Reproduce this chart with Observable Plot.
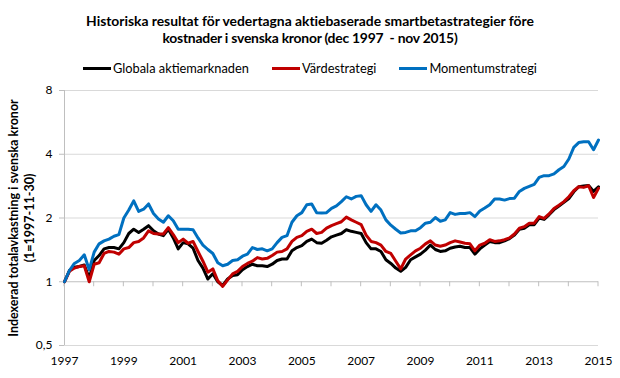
<!DOCTYPE html>
<html><head><meta charset="utf-8">
<script src="https://cdn.jsdelivr.net/npm/d3@7"></script>
<script src="https://cdn.jsdelivr.net/npm/@observablehq/plot@0.6"></script>
<style>
  html,body{margin:0;padding:0;background:#fff;}
  body{width:620px;height:378px;position:relative;overflow:hidden;font-family:Lato,"Open Sans",sans-serif;}
  #title{position:absolute;left:0;top:12px;width:620px;text-align:center;font-weight:bold;font-size:13.9px;line-height:17px;color:#000;}
  #title div{white-space:nowrap;}
  #title span{display:inline-block;white-space:pre;}
  #legend{position:absolute;left:0;top:60px;width:620px;display:flex;justify-content:center;gap:23px;font-size:12.8px;color:#000;}
  .item{display:flex;align-items:center;}
  .sw{display:inline-block;width:28px;height:3px;margin-right:2px;}
  #chart{position:absolute;left:0;top:78px;}
  #chart svg g[aria-label="y-axis"] line, #chart svg g[aria-label="y-axis tick"] path{stroke:#bfbfbf;}
</style>
</head><body>
<div id="title"></div>
<div id="legend"></div>
<div id="chart"></div>
<script>
// Title and labels
const titleLines = ["Historiska resultat för vedertagna aktiebaserade smartbetastrategier före", "kostnader i svenska kronor (dec 1997  - nov 2015)"];
const titleWidths = [448, 295];
const yLabel = "Indexerad totalavkastning i svenska kronor\n(1=1997-11-30)";
const seriesNames = ["Globala aktiemarknaden", "Värdestrategi", "Momentumstrategi"];
const seriesColors = ["#000000", "#c00000", "#0070c0"];

// Months since 1997-11-30, every second month
const months = d3.range(0, 217, 2);

// Values (index, 1 = 1997-11-30)
const globala = [1.00,1.13,1.17,1.18,1.20,1.04,1.26,1.33,1.43,1.45,1.45,1.43,1.53,1.69,1.77,1.71,1.77,1.84,1.74,1.68,1.65,1.77,1.61,1.43,1.53,1.51,1.44,1.26,1.16,1.03,1.09,1.00,0.96,1.03,1.07,1.08,1.14,1.18,1.21,1.19,1.19,1.18,1.21,1.26,1.28,1.28,1.40,1.45,1.48,1.55,1.59,1.53,1.52,1.57,1.63,1.66,1.69,1.76,1.73,1.71,1.69,1.53,1.43,1.43,1.39,1.27,1.22,1.16,1.12,1.17,1.27,1.31,1.35,1.41,1.49,1.42,1.39,1.40,1.44,1.46,1.47,1.45,1.45,1.35,1.43,1.49,1.55,1.53,1.53,1.56,1.60,1.66,1.77,1.79,1.86,1.86,2.00,1.97,2.07,2.19,2.28,2.37,2.47,2.66,2.81,2.83,2.85,2.67,2.81];
const varde = [1.00,1.12,1.16,1.18,1.19,1.00,1.21,1.23,1.36,1.39,1.38,1.35,1.43,1.45,1.53,1.55,1.61,1.74,1.69,1.68,1.68,1.80,1.67,1.53,1.59,1.52,1.55,1.39,1.25,1.11,1.15,1.01,0.95,1.02,1.09,1.12,1.18,1.22,1.25,1.30,1.28,1.29,1.33,1.38,1.39,1.43,1.55,1.62,1.65,1.73,1.77,1.69,1.71,1.79,1.84,1.88,1.92,2.02,1.96,1.91,1.86,1.66,1.55,1.53,1.49,1.39,1.36,1.25,1.15,1.28,1.34,1.40,1.44,1.51,1.56,1.49,1.47,1.49,1.53,1.56,1.54,1.52,1.51,1.40,1.49,1.52,1.58,1.55,1.56,1.58,1.61,1.68,1.79,1.82,1.89,1.89,2.03,1.99,2.09,2.22,2.30,2.39,2.52,2.69,2.81,2.79,2.84,2.50,2.76];
const momentum = [1.00,1.13,1.22,1.26,1.34,1.14,1.38,1.51,1.56,1.59,1.64,1.67,2.00,2.18,2.41,2.15,2.20,2.33,2.10,1.98,1.91,2.05,1.94,1.77,1.77,1.77,1.76,1.61,1.49,1.42,1.36,1.23,1.19,1.21,1.26,1.27,1.32,1.35,1.45,1.42,1.43,1.40,1.43,1.53,1.62,1.65,1.91,2.05,2.12,2.31,2.33,2.12,2.11,2.12,2.22,2.28,2.39,2.52,2.46,2.53,2.55,2.31,2.15,2.31,2.18,1.96,1.85,1.77,1.70,1.71,1.74,1.74,1.80,1.89,1.91,2.01,1.93,1.96,2.12,2.08,2.10,2.10,2.12,2.03,2.16,2.23,2.31,2.46,2.46,2.43,2.47,2.48,2.67,2.76,2.82,2.88,3.11,3.17,3.17,3.23,3.38,3.50,3.80,4.31,4.54,4.58,4.58,4.20,4.67];

// Axis ticks
const xTickLabels = ["1997","1999","2001","2003","2005","2007","2009","2011","2013","2015"];
const yTicks = [0.5, 1, 2, 4, 8];
const yTickLabels = ["0,5", "1", "2", "4", "8"];

// Title & legend
const titleEl = document.getElementById("title");
titleEl.innerHTML = titleLines.map(t => `<div><span></span></div>`).join("");
const spans = titleEl.querySelectorAll("span");
spans.forEach((s, i) => { s.textContent = titleLines[i]; });
function fitTitle() {
  spans.forEach((s, i) => {
    s.style.letterSpacing = "0px";
    const w = s.getBoundingClientRect().width;
    if (w > 0) s.style.letterSpacing = ((titleWidths[i] - w) / titleLines[i].length).toFixed(3) + "px";
  });
}
fitTitle();
if (document.fonts && document.fonts.ready) document.fonts.ready.then(fitTitle);

document.getElementById("legend").innerHTML = seriesNames.map((n, i) =>
  `<span class="item"><span class="sw" style="background:${seriesColors[i]}"></span>${n}</span>`).join("");

const xTickPos = xTickLabels.map(l => (+l - 1997) * 12);
const seriesData = [globala, varde, momentum];

const chart = Plot.plot({
  width: 620,
  height: 300,
  marginTop: 12,
  marginBottom: 33,
  marginLeft: 64,
  marginRight: 22,
  style: {fontFamily: 'Lato,"Open Sans",sans-serif', fontSize: "12px", color: "#000", background: "#fff"},
  x: {domain: [0, 216], ticks: xTickPos, tickFormat: (d) => xTickLabels[xTickPos.indexOf(d)], tickSize: 0, tickPadding: 11, label: null},
  y: {type: "log", base: 2, domain: [0.5, 8], ticks: yTicks, tickFormat: (d) => yTickLabels[yTicks.indexOf(d)], tickSize: 5, tickPadding: 7, label: null},
  marks: [
    Plot.ruleY([0.5, 2, 4, 8], {stroke: "#d9d9d9", strokeWidth: 1}),
    Plot.ruleX([0], {stroke: "#bfbfbf", strokeWidth: 1}),
    Plot.ruleY([1], {stroke: "#bfbfbf", strokeWidth: 1}),
    ...seriesData.map((s, j) => Plot.line(s, {x: (d, i) => months[i], y: (d) => d, stroke: seriesColors[j], strokeWidth: 3, strokeLinejoin: "round"})),
    Plot.text([yLabel], {frameAnchor: "left", textAnchor: "middle", lineAnchor: "middle", dx: -44, rotate: -90, fontWeight: "bold", fontSize: 12.5, lineHeight: 1.3, fill: "#000"})
  ]
});

// Year tick marks on the value-1 baseline, placed with Plot's scales
const sx = chart.scale("x"), sy = chart.scale("y");
const y1 = sy.apply(1);
d3.select(chart).insert("g", ":first-child")
  .selectAll("line").data(d3.range(0, 217, 12)).join("line")
  .attr("x1", d => sx.apply(d)).attr("x2", d => sx.apply(d))
  .attr("y1", y1).attr("y2", y1 + 5)
  .attr("stroke", "#bfbfbf");

document.getElementById("chart").appendChild(chart);
</script>
</body></html>
